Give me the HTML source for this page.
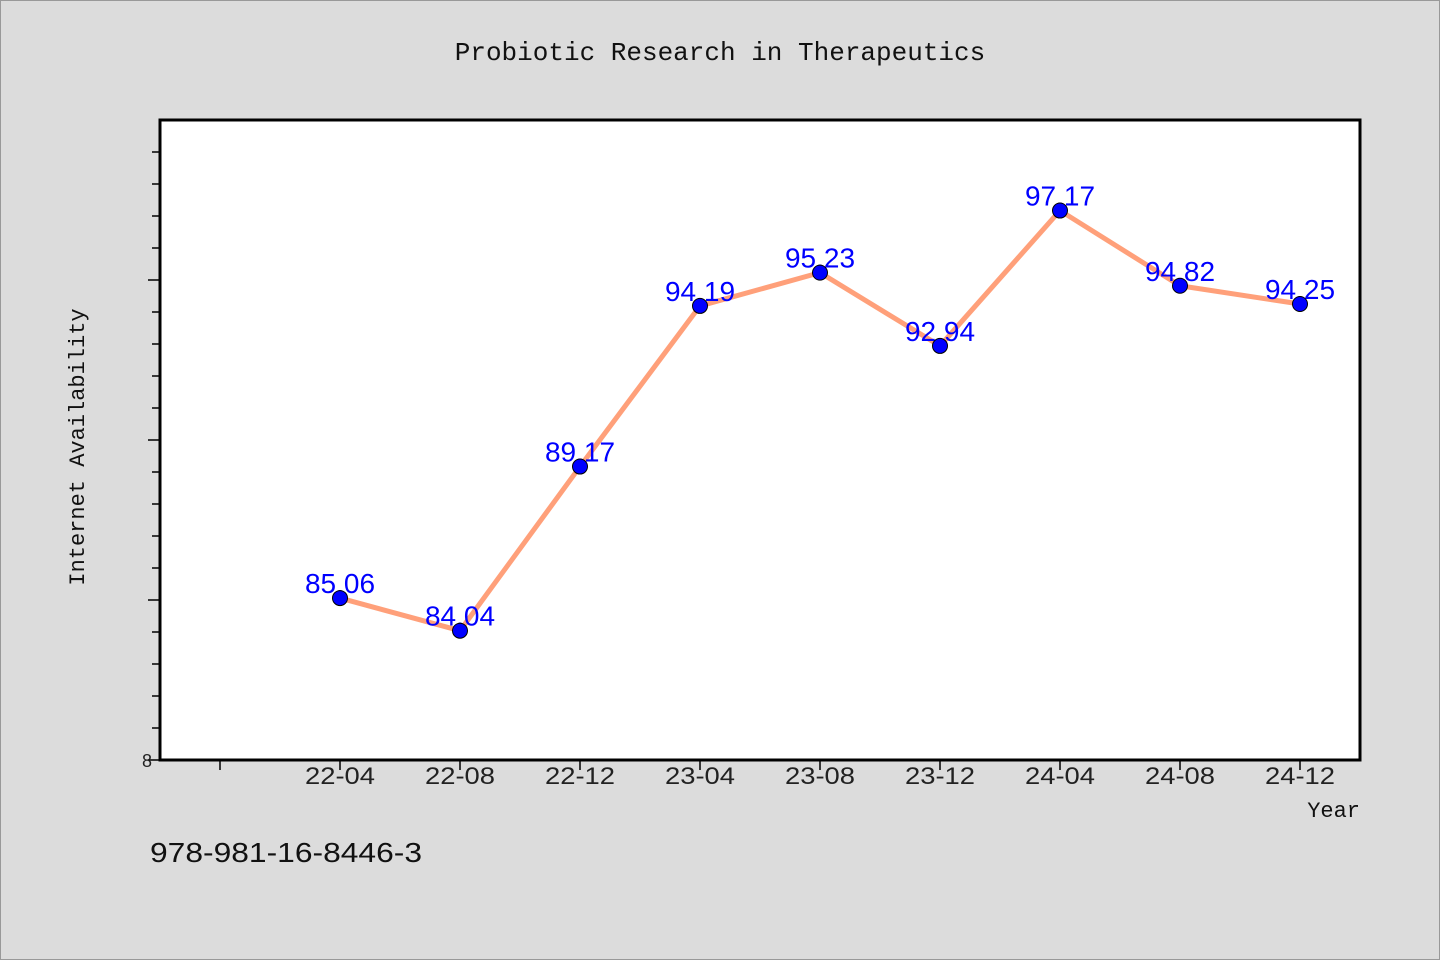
<!DOCTYPE html>
<html><head><meta charset="utf-8"><style>
html,body{margin:0;padding:0;background:#dcdcdc;}
svg{display:block;}
</style></head><body>
<svg width="1440" height="960" xmlns="http://www.w3.org/2000/svg">
<rect x="0.5" y="0.5" width="1439" height="959" fill="#dcdcdc" stroke="#999"/>
<text x="720" y="60" text-anchor="middle" font-family="Liberation Mono, monospace" font-size="26" fill="#111">Probiotic Research in Therapeutics</text>
<rect x="160" y="120" width="1200" height="640" fill="#fff" stroke="#000" stroke-width="3"/>
<g id="yticks"></g>
<g id="xticks"></g>
<g id="series"></g>
<text transform="translate(84,447) rotate(-90)" text-anchor="middle" font-family="Liberation Mono, monospace" font-size="22" fill="#111">Internet Availability</text>
<text x="1360" y="817" text-anchor="end" font-family="Liberation Mono, monospace" font-size="22" fill="#111">Year</text>
<text x="150" y="862" textLength="272" lengthAdjust="spacingAndGlyphs" font-family="WenQuanYi Zen Hei, Liberation Sans, sans-serif" font-size="28" fill="#111">978-981-16-8446-3</text>
</svg>
<script>
const categories = ["22-04","22-08","22-12","23-04","23-08","23-12","24-04","24-08","24-12"];
const values = [85.06,84.04,89.17,94.19,95.23,92.94,97.17,94.82,94.25];
const yTickLabels = ["8"];
const NS="http://www.w3.org/2000/svg";
const yMin=80,yMax=100,plotTop=120,plotBottom=760,plotLeft=160;
function yS(v){return plotBottom-(v-yMin)/(yMax-yMin)*(plotBottom-plotTop);}
function xS(i){return 340+120*i;}
function mk(tag,attrs,parent){const e=document.createElementNS(NS,tag);for(const k in attrs)e.setAttribute(k,attrs[k]);parent.appendChild(e);return e;}
const yg=document.getElementById('yticks');
for(let v=yMin;v<yMax;v+=1){
  const y=yS(v);const major=(v%5===0);
  const t=mk('line',{x1:plotLeft,x2:major?plotLeft-12:plotLeft-8,y1:y,y2:y,stroke:'#000','stroke-width':1.5},yg);
  
  
}
const yl=mk('text',{x:152,y:plotBottom+7,'text-anchor':'end','font-family':'WenQuanYi Zen Hei, Liberation Sans, sans-serif','font-size':18,fill:'#222'},yg);


yl.textContent=yTickLabels[0];
const xg=document.getElementById('xticks');
for(let i=-1;i<categories.length;i++){
  const x=xS(i);
  const t=mk('line',{x1:x,x2:x,y1:plotBottom,y2:plotBottom+10,stroke:'#000','stroke-width':1.5},xg);
  
  
  if(i>=0){
    const l=mk('text',{x:x,y:plotBottom+24,'text-anchor':'middle',textLength:70,lengthAdjust:'spacingAndGlyphs','font-family':'WenQuanYi Zen Hei, Liberation Sans, sans-serif','font-size':24,fill:'#222'},xg);
    
    
    l.textContent=categories[i];
  }
}
const sg=document.getElementById('series');
const pts=values.map((v,i)=>xS(i)+','+yS(v)).join(' ');
const pl=mk('polyline',{points:pts,fill:'none',stroke:'#ffa07a','stroke-width':5,'stroke-linejoin':'round'},sg);


values.forEach((v,i)=>{
  const l=mk('text',{x:xS(i),y:yS(v)-5,'text-anchor':'middle','font-family':'Liberation Sans, sans-serif','font-size':28,fill:'#0000ff'},sg);
  
  
  l.textContent=v.toFixed(2);
});
values.forEach((v,i)=>{
  const c=mk('circle',{cx:xS(i),cy:yS(v),r:7.5,fill:'#0000ff',stroke:'#000','stroke-width':1},sg);
  
  
});
</script>
</body></html>
